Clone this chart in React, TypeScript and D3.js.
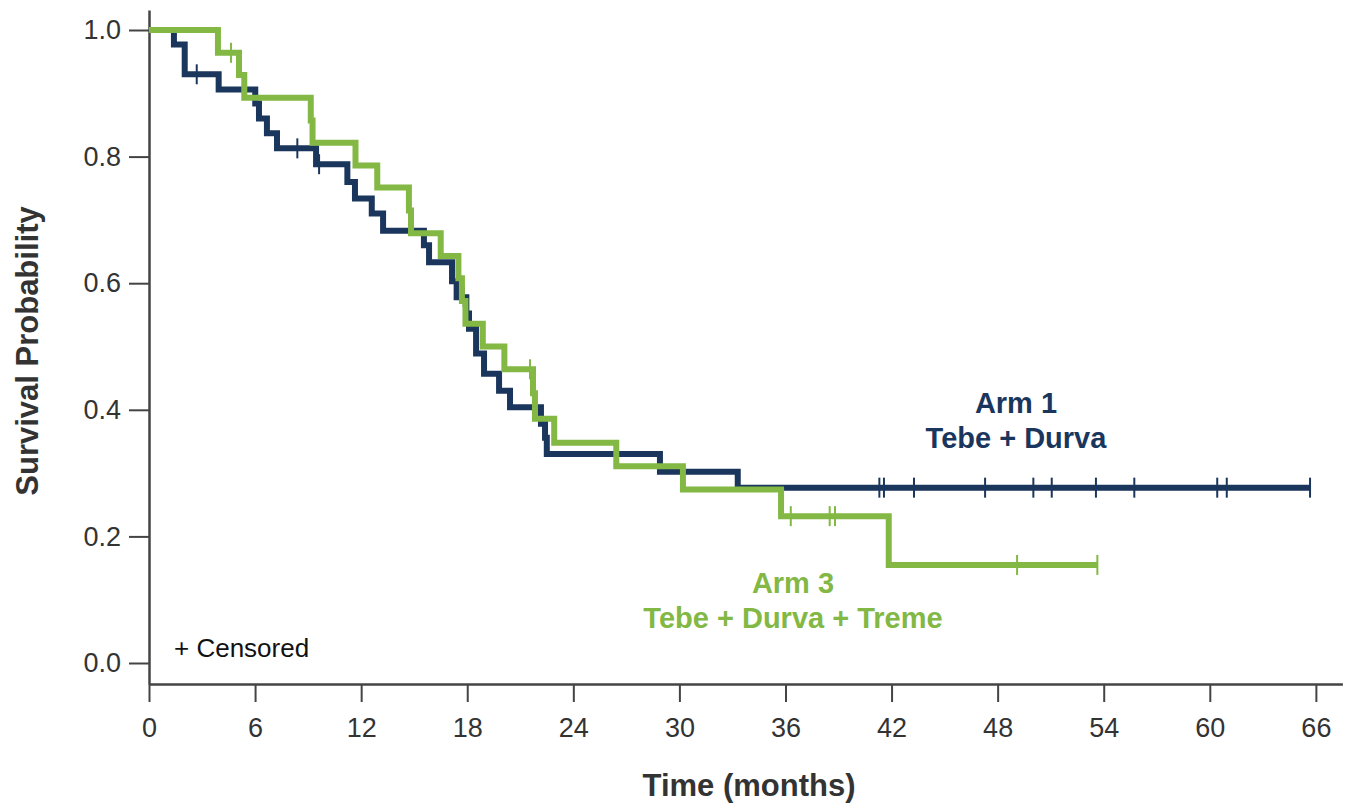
import { useEffect, useRef } from "react";
import * as d3 from "d3";

const width = 1349;
const height = 805;

const navy = "#1b365d";
const green = "#82b843";
const axisColor = "#444444";

// Arm 1 - Tebe + Durva : event times (months) and survival after each event
const arm1Times = [0, 1.41, 2.02, 3.94, 6.01, 6.22, 6.67, 7.24, 9.45, 11.22, 11.65, 12.6, 13.24, 15.55, 15.84, 17.14, 17.4, 17.95, 18.1, 18.5, 18.95, 19.8, 20.42, 22.17, 22.4, 22.5, 28.9, 33.3];
const arm1Surv = [1, 0.977, 0.93, 0.906, 0.884, 0.86, 0.837, 0.813, 0.788, 0.76, 0.734, 0.71, 0.683, 0.66, 0.633, 0.603, 0.578, 0.552, 0.528, 0.489, 0.457, 0.43, 0.404, 0.378, 0.356, 0.33, 0.302, 0.277];
const arm1Censored = [2.7, 8.39, 9.62, 17.8, 41.31, 41.57, 43.27, 47.29, 50.02, 51.06, 53.56, 55.73, 60.42, 60.96, 65.67];
const arm1End = 65.67;

// Arm 3 - Tebe + Durva + Treme
const arm3Times = [0, 3.9, 5.09, 5.39, 9.15, 9.25, 11.68, 12.91, 14.7, 14.82, 16.5, 17.5, 17.7, 17.9, 18.88, 20.1, 21.72, 21.83, 22.92, 26.43, 30.2, 35.75, 41.84];
const arm3Surv = [1, 0.964, 0.929, 0.893, 0.857, 0.822, 0.786, 0.751, 0.715, 0.679, 0.643, 0.608, 0.572, 0.536, 0.5, 0.464, 0.426, 0.386, 0.348, 0.311, 0.274, 0.232, 0.155];
const arm3Censored = [4.64, 21.55, 36.3, 38.5, 38.8, 49.1, 53.64];
const arm3End = 53.64;

const xTicks = [0, 6, 12, 18, 24, 30, 36, 42, 48, 54, 60, 66];
const yTicks = [0, 0.2, 0.4, 0.6, 0.8, 1.0];

const x = d3.scaleLinear().domain([0, 67.5]).range([149, 1342.4]);
// 0 -> 663, 1 -> 30; extended so the axis line sits below zero
const y = d3.scaleLinear().domain([-21 / 633, 1 + 20 / 633]).range([684, 10]);

const stepLine = d3
  .line<[number, number]>()
  .x((d) => x(d[0]))
  .y((d) => y(d[1]))
  .curve(d3.curveStepAfter);

function survAt(times: number[], surv: number[], t: number) {
  let s = surv[0];
  for (let i = 0; i < times.length; i++) {
    if (times[i] <= t) s = surv[i];
  }
  return s;
}

function Curve({ times, surv, end, censored, color }: any) {
  const pts: [number, number][] = times.map((t: number, i: number) => [t, surv[i]]);
  pts.push([end, surv[surv.length - 1]]);
  return (
    <g>
      <path d={stepLine(pts) || ""} fill="none" stroke={color} strokeWidth={6} strokeLinejoin="miter" strokeLinecap="butt" />
      {censored.map((t: number, i: number) => {
        const s = survAt(times, surv, t);
        return (
          <line key={i} x1={x(t)} x2={x(t)} y1={y(s) - 10} y2={y(s) + 10} stroke={color} strokeWidth={2} />
        );
      })}
    </g>
  );
}

export default function App() {
  const xRef = useRef<SVGGElement>(null);
  const yRef = useRef<SVGGElement>(null);

  useEffect(() => {
    const gx = d3.select(xRef.current!);
    gx.selectAll("*").remove();
    gx.call(
      d3.axisBottom(x).tickValues(xTicks).tickSize(18).tickSizeOuter(0).tickPadding(16).tickFormat(d3.format("d"))
    );
    const gy = d3.select(yRef.current!);
    gy.selectAll("*").remove();
    gy.call(
      d3.axisLeft(y).tickValues(yTicks).tickSize(20).tickSizeOuter(0).tickPadding(8).tickFormat(d3.format(".1f"))
    );
    [gx, gy].forEach((g) => {
      g.select(".domain").attr("stroke", axisColor).attr("stroke-width", 2.5);
      g.selectAll(".tick line").attr("stroke", axisColor).attr("stroke-width", 2);
      g.selectAll(".tick text")
        .attr("fill", "#333")
        .attr("font-size", 27)
        .attr("font-family", "'Liberation Sans', Arial, sans-serif");
    });
  }, []);

  return (
    <svg
      width={width}
      height={height}
      style={{ position: "absolute", left: 0, top: 0, background: "#fff" }}
      fontFamily="'Liberation Sans', Arial, sans-serif"
    >
      <g ref={xRef} transform={`translate(0, ${y(-21 / 633)})`} />
      <g ref={yRef} transform={`translate(${x(0)}, 0)`} />

      <Curve times={arm1Times} surv={arm1Surv} end={arm1End} censored={arm1Censored} color={navy} />
      <Curve times={arm3Times} surv={arm3Surv} end={arm3End} censored={arm3Censored} color={green} />

      <text x={1016} y={413} textAnchor="middle" fontWeight="bold" fontSize={29} fill={navy}>Arm 1</text>
      <text x={1016} y={448} textAnchor="middle" fontWeight="bold" fontSize={29} fill={navy}>Tebe + Durva</text>

      <text x={793} y={593} textAnchor="middle" fontWeight="bold" fontSize={29} fill={green}>Arm 3</text>
      <text x={793} y={628} textAnchor="middle" fontWeight="bold" fontSize={29} fill={green}>Tebe + Durva + Treme</text>

      <text x={174} y={657} fontSize={26} fill="#111">+ Censored</text>

      <text x={749} y={796} textAnchor="middle" fontWeight="bold" fontSize={31} fill="#333">Time (months)</text>
      <text
        transform={`translate(38, ${351}) rotate(-90)`}
        textAnchor="middle"
        fontWeight="bold"
        fontSize={31}
        fill="#333"
      >
        Survival Probability
      </text>
    </svg>
  );
}
